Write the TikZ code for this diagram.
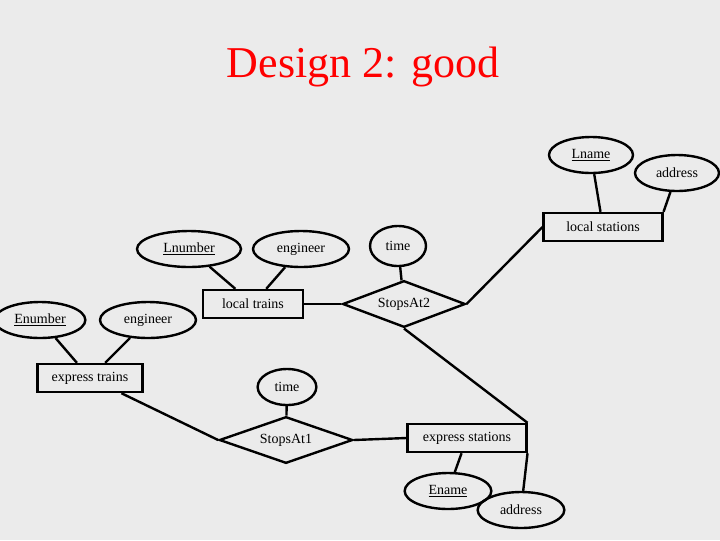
\documentclass[tikz,border=0pt]{standalone}
\usepackage{fontspec}
\setmainfont{Liberation Serif}
\usetikzlibrary{shapes.geometric}
\definecolor{slidebg}{HTML}{EBEBEB}
\tikzstyle{entity} = [rectangle, draw=black, line width=1.8pt, minimum height=21pt, inner xsep=6pt, font=\fontsize{10.5}{12}\selectfont]
\tikzstyle{attr} = [ellipse, draw=black, line width=1.8pt, minimum height=27pt, inner xsep=2pt, font=\fontsize{10.5}{12}\selectfont]
\tikzstyle{rel} = [diamond, draw=black, line width=1.8pt, aspect=2.6, inner sep=1pt, minimum width=90pt, font=\fontsize{10.5}{12}\selectfont]
\tikzstyle{edge} = [line width=1.8pt]

\begin{document}
\begin{tikzpicture}[x=0.75pt, y=-0.75pt]

\fill[slidebg] (0,0) rectangle (720,540);
\useasboundingbox (0,0) rectangle (720,540);

\node (title) [text=red, font=\fontsize{33}{36}\selectfont] at (363,67) {Design 2: good};

\node (lname) [attr, minimum width=63pt] at (591,155) {\underline{Lname}};
\node (laddr) [attr, minimum width=63pt] at (677,173) {address};
\node (lstations) [entity, minimum width=89pt] at (603,227) {local stations};
\node (ltime) [attr, minimum width=42pt, minimum height=30pt] at (398,246) {time};
\node (stops2) [rel, minimum width=92pt, minimum height=35pt] at (404,304) {StopsAt2};
\node (lnumber) [attr, minimum width=78pt] at (189,249) {\underline{Lnumber}};
\node (leng) [attr, minimum width=72pt] at (301,249) {engineer};
\node (ltrains) [entity, minimum width=75pt] at (253,304) {local trains};
\node (enumber) [attr, minimum width=68pt] at (40,320) {\underline{Enumber}};
\node (eeng) [attr, minimum width=72pt] at (148,320) {engineer};
\node (etrains) [entity, minimum width=79pt] at (90,378) {express trains};
\node (etime) [attr, minimum width=44pt] at (287,387) {time};
\node (stops1) [rel, minimum width=100pt, minimum height=35pt] at (286,440) {StopsAt1};
\node (estations) [entity, minimum width=89pt] at (467,438) {express stations};
\node (ename) [attr, minimum width=65pt] at (448,491) {\underline{Ename}};
\node (eaddr) [attr, minimum width=65pt] at (521,510) {address};

\draw [edge] (lname) -- (lstations);
\draw [edge] (laddr) -- (lstations.north east);
\draw [edge] (stops2.east) -- (lstations.west);
\draw [edge] (ltime) -- (stops2);
\draw [edge] (ltrains) -- (stops2.west);
\draw [edge] (lnumber) -- (ltrains);
\draw [edge] (leng) -- (ltrains);
\draw [edge] (enumber) -- (etrains);
\draw [edge] (eeng) -- (etrains);
\draw [edge] (etrains) -- (stops1.west);
\draw [edge] (etime) -- (stops1);
\draw [edge] (stops1.east) -- (estations.west);
\draw [edge] (stops2.south) -- (estations.north east);
\draw [edge] (ename) -- (estations);
\draw [edge] (eaddr) -- (estations.south east);

\end{tikzpicture}
\end{document}
